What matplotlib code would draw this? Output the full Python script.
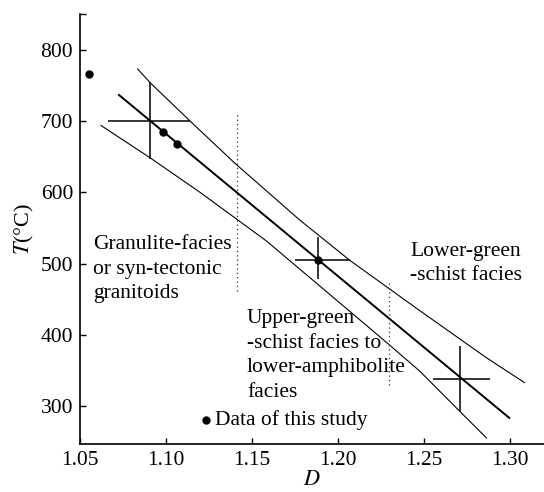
import numpy as np
import matplotlib.pyplot as plt

plt.rcParams['font.family'] = ['Liberation Serif', 'DejaVu Serif']
plt.rcParams['mathtext.fontset'] = 'stix'

# data
pts_D = [1.0554, 1.0981, 1.1063, 1.1885]
pts_T = [766, 684.5, 668, 505]

fit_D = [1.0727, 1.2998]
fit_T = [736.4, 283.6]

upper_D = [1.0835, 1.0911, 1.1140, 1.1400, 1.1779, 1.2073, 1.2477, 1.2865, 1.3087]
upper_T = [773, 753, 700, 641, 561, 504, 434, 368, 333]

lower_D = [1.0622, 1.0907, 1.1198, 1.1585, 1.2263, 1.2477, 1.2709, 1.2865]
lower_T = [693.7, 648.5, 600, 531.7, 393.7, 349.2, 293, 255.5]

cross_D = [1.091, 1.1885, 1.2709]
cross_T = [700, 505, 338.5]
cross_Dlo = [1.0665, 1.175, 1.2554]
cross_Dhi = [1.114, 1.2073, 1.2884]
cross_Tlo = [647, 478, 293]
cross_Thi = [754, 537, 384]

bound_D = [1.1413, 1.2298]
bound_Tlo = [461, 330]
bound_Thi = [712, 476]

fig = plt.figure(figsize=(5.44, 4.92), dpi=100)
ax = fig.add_axes([80/544, 48/492, 464/544, 430/492])

ax.plot(upper_D, upper_T, color='black', lw=0.8)
ax.plot(lower_D, lower_T, color='black', lw=0.8)
ax.plot(fit_D, fit_T, color='black', lw=1.4)

cd = np.array(cross_D)
ct = np.array(cross_T)
xerr = [cd - np.array(cross_Dlo), np.array(cross_Dhi) - cd]
yerr = [ct - np.array(cross_Tlo), np.array(cross_Thi) - ct]
ax.errorbar(cd, ct, xerr=xerr, yerr=yerr, fmt='none', ecolor='black',
            elinewidth=1.1, capsize=0)

ax.plot(pts_D, pts_T, 'o', color='black', ms=5)

for d, lo, hi in zip(bound_D, bound_Tlo, bound_Thi):
    ax.plot([d, d], [lo, hi], color='#333333', lw=0.9, ls=(0, (1, 2.5)))

# legend-like note
ax.plot([1.1232], [280], 'o', color='black', ms=5)
ax.text(1.1285, 280, 'Data of this study', fontsize=15.5, va='center', ha='left')

ax.text(1.0577, 492, 'Granulite-facies\nor syn-tectonic\ngranitoids',
        fontsize=15.5, va='center', ha='left', linespacing=1.4)
ax.text(1.2421, 500, 'Lower-green\n-schist facies',
        fontsize=15.5, va='center', ha='left', linespacing=1.4)
ax.text(1.1472, 371, 'Upper-green\n-schist facies to\nlower-amphibolite\nfacies',
        fontsize=15.5, va='center', ha='left', linespacing=1.4)

ax.set_xlim(1.05, 1.32)
ax.set_ylim(247, 850)
ax.set_xticks([1.05, 1.10, 1.15, 1.20, 1.25, 1.30])
ax.set_xticklabels(['1.05', '1.10', '1.15', '1.20', '1.25', '1.30'])
ax.set_yticks([300, 400, 500, 600, 700, 800])
ax.set_yticks([850], minor=True)
ax.tick_params(direction='in', length=4, width=1, labelsize=15.5, pad=5)
ax.tick_params(axis='y', which='minor', direction='in', length=4, width=1)

ax.spines['top'].set_visible(False)
ax.spines['right'].set_visible(False)
ax.spines['left'].set_linewidth(1.2)
ax.spines['bottom'].set_linewidth(1.2)

ax.set_xlabel('$D$', fontsize=16, labelpad=1)
ax.set_ylabel('$T$(°C)', fontsize=16, labelpad=3)

fig.savefig('out.png', dpi=100)
